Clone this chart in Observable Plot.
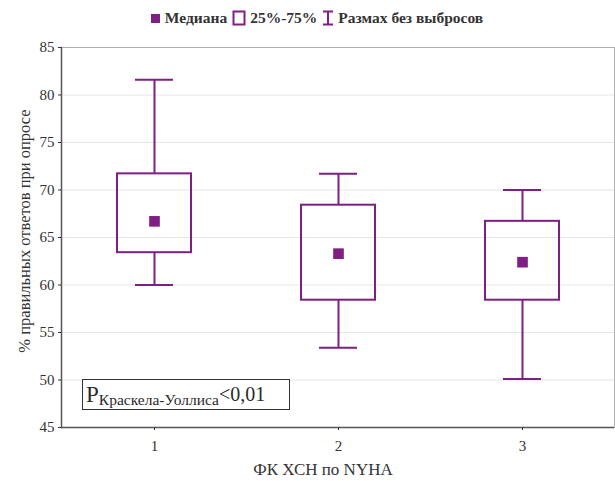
<!DOCTYPE html>
<html>
<head>
<meta charset="utf-8">
<script src="https://cdn.jsdelivr.net/npm/d3@7"></script>
<script src="https://cdn.jsdelivr.net/npm/@observablehq/plot@0.6"></script>
<style>
  body { margin: 0; background: #fff; }
  #wrap { position: relative; width: 615px; height: 481px; font-family: "Liberation Serif", "Times New Roman", Times, "DejaVu Serif", serif; color: #2a2a2a; }
  #legend { height: 36px; display: flex; align-items: center; justify-content: center; gap: 5px; font-size: 15.5px; font-weight: bold; color: #333; padding-left: 18px; box-sizing: border-box; }
  #legend .item { display: flex; align-items: center; gap: 4px; }
  #anno { position: absolute; left: 82px; top: 379px; width: 203px; height: 29px; border: 1px solid #333; background: #fff; display: flex; align-items: center; padding-left: 3px; box-sizing: content-box; white-space: nowrap; }
  #anno .p { font-size: 23px; }
  #anno .sub { font-size: 15.5px; position: relative; top: 5px; }
  #anno .v { font-size: 20px; }
  svg text { font-family: "Liberation Serif", "Times New Roman", Times, "DejaVu Serif", serif; }
</style>
</head>
<body>
<div id="wrap">
  <div id="legend"></div>
  <div id="chart"></div>
  <div id="anno"><span class="p">P</span><span class="sub">Краскела-Уоллиса</span><span class="v">&lt;0,01</span></div>
</div>
<script>
const categories = ["1", "2", "3"];
const median = [66.7, 63.3, 62.4];
const q1 = [63.4, 58.4, 58.4];
const q3 = [71.7, 68.4, 66.7];
const whiskerLow = [60.0, 53.4, 50.1];
const whiskerHigh = [81.6, 71.7, 70.0];
const yTicks = [45, 50, 55, 60, 65, 70, 75, 80, 85];
const legendLabels = ["Медиана", "25%-75%", "Размах без выбросов"];
const xLabel = "ФК ХСН по NYHA";
const yLabel = "% правильных ответов при опросе";

const purple = "#7e1f82";
const serif = '"Liberation Serif", "Times New Roman", Times, "DejaVu Serif", serif';
const data = categories.map((c, i) => ({
  c, median: median[i], q1: q1[i], q3: q3[i], lo: whiskerLow[i], hi: whiskerHigh[i]
}));

// legend
const legend = document.getElementById("legend");
const icons = [
  `<svg width="11" height="11"><rect x="1" y="1" width="9" height="9" fill="${purple}"/></svg>`,
  `<svg width="14" height="16"><rect x="1.5" y="1.5" width="11" height="13" fill="none" stroke="${purple}" stroke-width="2"/></svg>`,
  `<svg width="12" height="16"><path d="M1 1.5H11M6 1.5V14.5M1 14.5H11" fill="none" stroke="${purple}" stroke-width="2"/></svg>`
];
legendLabels.forEach((t, i) => {
  const d = document.createElement("span");
  d.className = "item";
  d.innerHTML = icons[i] + `<span>${t}</span>`;
  legend.appendChild(d);
});

const chart = Plot.plot({
  width: 615,
  height: 445,
  marginTop: 11,
  marginBottom: 54,
  marginLeft: 61,
  marginRight: 1,
  style: { fontFamily: serif, fontSize: "15px", color: "#333", background: "transparent" },
  x: { type: "band", domain: categories, paddingInner: 0.6, paddingOuter: 0.3, label: null },
  y: { domain: [45, 85], label: null },
  marks: [
    Plot.gridY(yTicks, { stroke: "#e6e6e6", strokeOpacity: 1 }),
    Plot.frame({ stroke: "#b0b0b0" }),
    Plot.ruleY([45], { stroke: "#555", strokeWidth: 1.5 }),
    Plot.frame({ anchor: "left", stroke: "#555", strokeWidth: 1.5 }),
    Plot.axisY(yTicks, { tickSize: 3, tickPadding: 4, fontSize: 15, anchor: "left" }),
    Plot.axisX({ tickSize: 3, tickPadding: 10, fontSize: 15, anchor: "bottom" }),
    Plot.ruleX(data, { x: "c", y1: "q3", y2: "hi", stroke: purple, strokeWidth: 2 }),
    Plot.ruleX(data, { x: "c", y1: "lo", y2: "q1", stroke: purple, strokeWidth: 2 }),
    Plot.tickY(data, { x: "c", y: "hi", stroke: purple, strokeWidth: 2, insetLeft: 18, insetRight: 18 }),
    Plot.tickY(data, { x: "c", y: "lo", stroke: purple, strokeWidth: 2, insetLeft: 18, insetRight: 18 }),
    Plot.barY(data, { x: "c", y1: "q1", y2: "q3", fill: "none", stroke: purple, strokeWidth: 2 }),
    Plot.dot(data, { x: "c", y: "median", symbol: "square", r: 6, fill: purple, stroke: "none" })
  ]
});
document.getElementById("chart").appendChild(chart);

const svgNS = "http://www.w3.org/2000/svg";
const xt = document.createElementNS(svgNS, "text");
xt.setAttribute("x", 323); xt.setAttribute("y", 439);
xt.setAttribute("text-anchor", "middle");
xt.setAttribute("font-size", "17"); xt.setAttribute("fill", "#333");
xt.textContent = xLabel;
chart.appendChild(xt);
const yt = document.createElementNS(svgNS, "text");
yt.setAttribute("transform", "translate(30,195) rotate(-90)");
yt.setAttribute("text-anchor", "middle");
yt.setAttribute("font-size", "16.5"); yt.setAttribute("fill", "#333");
yt.textContent = yLabel;
chart.appendChild(yt);
</script>
</body>
</html>
